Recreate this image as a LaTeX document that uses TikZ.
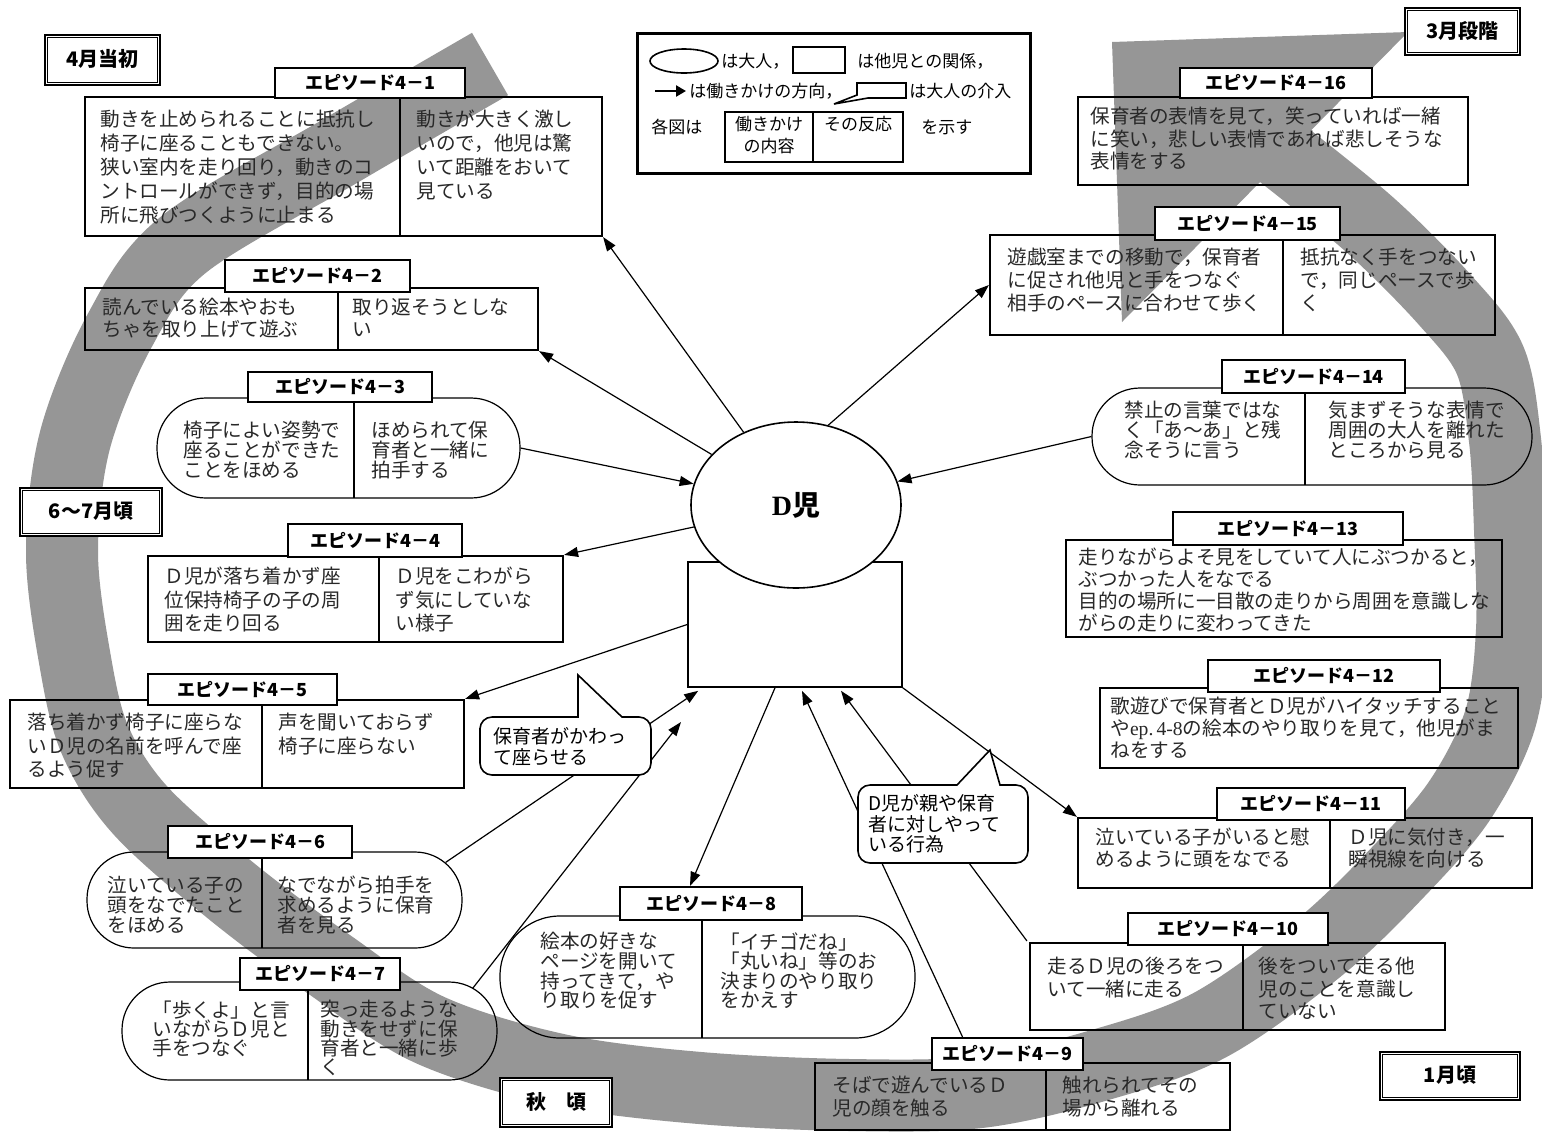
\documentclass[tikz,border=0pt]{standalone}
\usepackage{fontspec}
\setmainfont{Liberation Serif}
\newfontfamily\jp{Noto Sans CJK JP}
\usetikzlibrary{arrows.meta,fit,calc,shapes.geometric}
\definecolor{bandgray}{RGB}{150,150,150}
\definecolor{txtc}{RGB}{40,40,40}
\newcommand\bodyf[1]{\jp\fontsize{9.8}{#1}\selectfont\lineskiplimit=-20pt\relax}
\newcommand\calf{\jp\fontsize{9.5}{10.3}\selectfont\lineskiplimit=-20pt\relax}
\newcommand\cell[5]{\node[txt, font=\bodyf{#4}] (#1) at (#2,#3) {#5};}
% style, name, x1, y1, x2, y2, text  (pixel coordinates)
\newcommand\rnode[7]{%
  \pgfmathsetmacro\rcx{(#3+#5)/2}\pgfmathsetmacro\rcy{(#4+#6)/2}%
  \pgfmathsetmacro\rww{(#5-#3)*0.5}\pgfmathsetmacro\rhh{(#6-#4)*0.5}%
  \node[#1, minimum width=\rww pt, minimum height=\rhh pt, anchor=center] (#2) at (\rcx,\rcy) {#7};}
\begin{document}
\begin{tikzpicture}[x=0.5pt,y=-0.5pt,
  box/.style={draw, line width=1.1pt, inner sep=0pt},
  pillbox/.style={draw, line width=0.6pt, inner sep=0pt, rounded corners=#1},
  lab/.style={draw, fill=white, line width=1.1pt, inner sep=0pt, text height=0.78em, text depth=0.1em, font=\jp\bfseries\fontsize{9}{10}\selectfont},
  corner/.style={draw, fill=white, line width=1.4pt, inner sep=0pt, text height=0.78em, text depth=0.1em, font=\jp\bfseries\fontsize{10}{12}\selectfont},
  txt/.style={anchor=north west, inner sep=0pt, align=left, text=txtc},
  legt/.style={inner sep=0pt, font=\jp\fontsize{8.5}{11}\selectfont, align=center},
  calt/.style={anchor=north west, inner sep=0pt, align=left, font=\calf},
  arr/.style={-{Triangle[length=7pt,width=5pt]}, line width=0.6pt},
  div/.style={line width=1.1pt},
  tdiv/.style={line width=0.6pt},
  band/.style={draw=bandgray, line width=36pt, line cap=butt, line join=round}
]
\useasboundingbox (0,0) rectangle (1542,1131);
\fill[white] (0,0) rectangle (1542,1131);

% ---------- big spiral band ----------
\draw[band] plot[smooth, tension=0.55] coordinates {
 (490,64) (342,150) (183,245) (120,330) (75,440) (62,552) (75,660) (95,740)
 (140,810) (230,890) (330,965) (430,1030) (560,1070) (700,1088) (850,1095)
 (980,1092) (1100,1065) (1210,1025) (1320,947) (1400,870) (1460,800)
 (1500,720) (1512,630) (1510,530) (1505,440) (1490,360) (1445,300)
 (1370,225) (1280,152)};
\fill[bandgray] (1112,42) -- (1408,32) -- (1122,322) -- cycle;

% ---------- episode boxes ----------
% 4-1
\node[box, fit={(85,97) (602,236)}] (e1) {};
\draw[div] (400,97) -- (400,236);
\cell{t1a}{100}{110}{12}{動きを止められることに抵抗し\\椅子に座ることもできない。\\狭い室内を走り回り，動きのコ\\ントロールができず，目的の場\\所に飛びつくように止まる}
\cell{t1b}{416}{110}{12}{動きが大きく激し\\いので，他児は驚\\いて距離をおいて\\見ている}
\rnode{lab}{l1}{275}{68}{465}{98}{エピソード4－1}
% 4-2
\node[box, fit={(85,288) (538,350)}] (e2) {};
\draw[div] (338,288) -- (338,350);
\cell{t2a}{102}{298}{11}{読んでいる絵本やおも\\ちゃを取り上げて遊ぶ}
\cell{t2b}{352}{298}{11}{取り返そうとしな\\い}
\rnode{lab}{l2}{225}{260}{410}{292}{エピソード4－2}
% 4-3
\node[pillbox=24.5pt, fit={(157,398) (520,498)}] (p3) {};
\draw[tdiv] (354,398) -- (354,498);
\cell{t3a}{183}{421}{10}{椅子によい姿勢で\\座ることができた\\ことをほめる}
\cell{t3b}{371}{421}{10}{ほめられて保\\育者と一緒に\\拍手する}
\rnode{lab}{l3}{248}{372}{432}{402}{エピソード4－3}
% 4-4
\node[box, fit={(148,556) (563,642)}] (e4) {};
\draw[div] (379,556) -- (379,642);
\cell{t4a}{164}{567}{11.75}{Ｄ児が落ち着かず座\\位保持椅子の子の周\\囲を走り回る}
\cell{t4b}{395}{567}{11.75}{Ｄ児をこわがら\\ず気にしていな\\い様子}
\rnode{lab}{l4}{288}{524}{462}{557}{エピソード4－4}
% 4-5
\node[box, fit={(10,700) (464,788)}] (e5) {};
\draw[div] (262,700) -- (262,788);
\cell{t5a}{27}{713}{11.75}{落ち着かず椅子に座らな\\いＤ児の名前を呼んで座\\るよう促す}
\cell{t5b}{278}{713}{11.75}{声を聞いておらず\\椅子に座らない}
\rnode{lab}{l5}{148}{674}{337}{705}{エピソード4－5}
% 4-6
\node[pillbox=23.5pt, fit={(87,852) (462,948)}] (p6) {};
\draw[tdiv] (262,852) -- (262,948);
\cell{t6a}{107}{876}{10}{泣いている子の\\頭をなでたこと\\をほめる}
\cell{t6b}{277}{876}{10}{なでながら拍手を\\求めるように保育\\者を見る}
\rnode{lab}{l6}{168}{826}{352}{858}{エピソード4－6}
% 4-7
\node[pillbox=24pt, fit={(122,982) (497,1080)}] (p7) {};
\draw[tdiv] (308,982) -- (308,1080);
\cell{t7a}{152}{1000}{9.6}{「歩くよ」と言\\いながらＤ児と\\手をつなぐ}
\cell{t7b}{320}{1000}{9.6}{突っ走るような\\動きをせずに保\\育者と一緒に歩\\く}
\rnode{lab}{l7}{240}{958}{400}{990}{エピソード4－7}
% 4-8
\node[pillbox=30pt, fit={(500,916) (915,1038)}] (p8) {};
\draw[tdiv] (702,916) -- (702,1038);
\cell{t8a}{540}{932}{9.8}{絵本の好きな\\ページを開いて\\持ってきて，や\\り取りを促す}
\cell{t8b}{720}{932}{9.8}{「イチゴだね」\\「丸いね」等のお\\決まりのやり取り\\をかえす}
\rnode{lab}{l8}{620}{887}{802}{920}{エピソード4－8}
% 4-9
\node[box, fit={(815,1063) (1230,1130)}] (e9) {};
\draw[div] (1046,1063) -- (1046,1130);
\cell{t9a}{832}{1076}{11.5}{そばで遊んでいるＤ\\児の顔を触る}
\cell{t9b}{1062}{1076}{11.5}{触れられてその\\場から離れる}
\rnode{lab}{l9}{932}{1038}{1083}{1070}{エピソード4－9}
% 4-10
\node[box, fit={(1030,943) (1445,1030)}] (e10) {};
\draw[div] (1243,943) -- (1243,1030);
\cell{t10a}{1047}{957}{11.25}{走るＤ児の後ろをつ\\いて一緒に走る}
\cell{t10b}{1258}{957}{11.25}{後をついて走る他\\児のことを意識し\\ていない}
\rnode{lab}{l10}{1128}{913}{1328}{945}{エピソード4－10}
% 4-11
\node[box, fit={(1078,818) (1532,888)}] (e11) {};
\draw[div] (1330,818) -- (1330,888);
\cell{t11a}{1095}{828}{11}{泣いている子がいると慰\\めるように頭をなでる}
\cell{t11b}{1348}{828}{11}{Ｄ児に気付き，一\\瞬視線を向ける}
\rnode{lab}{l11}{1217}{788}{1405}{820}{エピソード4－11}
% 4-12
\node[box, fit={(1100,688) (1518,768)}] (e12) {};
\cell{t12}{1110}{697}{11}{歌遊びで保育者とＤ児がハイタッチすること\\や{\rmfamily ep.\,4-8}の絵本のやり取りを見て，他児がま\\ねをする}
\rnode{lab}{l12}{1208}{660}{1440}{692}{エピソード4－12}
% 4-13
\node[box, fit={(1066,540) (1502,637)}] (e13) {};
\cell{t13}{1078}{548}{10.9}{走りながらよそ見をしていて人にぶつかると，\\ぶつかった人をなでる\\目的の場所に一目散の走りから周囲を意識しな\\がらの走りに変わってきた}
\rnode{lab}{l13}{1173}{512}{1403}{545}{エピソード4－13}
% 4-14
\node[pillbox=24pt, fit={(1092,388) (1532,485)}] (p14) {};
\draw[tdiv] (1305,388) -- (1305,485);
\cell{t14a}{1124}{401}{10}{禁止の言葉ではな\\く「あ〜あ」と残\\念そうに言う}
\cell{t14b}{1328}{401}{10}{気まずそうな表情で\\周囲の大人を離れた\\ところから見る}
\rnode{lab}{l14}{1222}{360}{1405}{393}{エピソード4－14}
% 4-15
\node[box, fit={(990,235) (1495,335)}] (e15) {};
\draw[div] (1283,235) -- (1283,335);
\cell{t15a}{1007}{248}{11.5}{遊戯室までの移動で，保育者\\に促され他児と手をつなぐ\\相手のペースに合わせて歩く}
\cell{t15b}{1300}{248}{11.5}{抵抗なく手をつない\\で，同じペースで歩\\く}
\rnode{lab}{l15}{1155}{207}{1340}{240}{エピソード4－15}
% 4-16
\node[box, fit={(1078,97) (1468,185)}] (e16) {};
\cell{t16}{1090}{107}{11.25}{保育者の表情を見て，笑っていれば一緒\\に笑い，悲しい表情であれば悲しそうな\\表情をする}
\rnode{lab}{l16}{1180}{68}{1372}{98}{エピソード4－16}

% ---------- period labels ----------
\rnode{corner}{c1}{45}{35}{160}{85}{4月当初}
\draw[line width=0.5pt] ([shift={(4,4)}]c1.north west) rectangle ([shift={(-4,-4)}]c1.south east);
\rnode{corner}{c2}{20}{488}{162}{536}{6〜7月頃}
\draw[line width=0.5pt] ([shift={(4,4)}]c2.north west) rectangle ([shift={(-4,-4)}]c2.south east);
\rnode{corner}{c3}{500}{1078}{612}{1127}{秋　頃}
\draw[line width=0.5pt] ([shift={(4,4)}]c3.north west) rectangle ([shift={(-4,-4)}]c3.south east);
\rnode{corner}{c4}{1380}{1052}{1520}{1100}{1月頃}
\draw[line width=0.5pt] ([shift={(4,4)}]c4.north west) rectangle ([shift={(-4,-4)}]c4.south east);
\rnode{corner}{c5}{1405}{8}{1520}{55}{3月段階}
\draw[line width=0.5pt] ([shift={(4,4)}]c5.north west) rectangle ([shift={(-4,-4)}]c5.south east);

% ---------- legend ----------
\node[draw, fill=white, line width=1.5pt, inner sep=0pt, fit={(637,33) (1030,173)}] (leg) {};
\node[draw, ellipse, line width=0.8pt, minimum width=34pt, minimum height=12pt, inner sep=0pt] (legE) at (684,61) {};
\node[legt, anchor=west] (legEt) at (721,61) {は大人，};
\node[draw, line width=0.9pt, inner sep=0pt, fit={(793,47) (845,73)}] (legR) {};
\node[legt, anchor=west] (legRt) at (857,61) {は他児との関係，};
\coordinate (legA1) at (655,91);
\coordinate (legA2) at (686,91);
\draw[-{Triangle[length=5pt,width=5.5pt]}, line width=1.2pt] (legA1) -- (legA2);
\node[legt, anchor=west] (legAt) at (689,91) {は働きかけの方向，};
\draw[line width=0.8pt, fill=white] (857,83) -- (906,83) -- (906,98) -- (868,98) -- (834,104) -- (857,95) -- cycle;
\node[legt, anchor=west] (legCt) at (909,91) {は大人の介入};
\node[legt, anchor=west] (legF) at (651,127) {各図は};
\node[draw, line width=1pt, inner sep=0pt, fit={(725,112) (903,162)}] (legB) {};
\draw[line width=1pt] (813,112) -- (813,162);
\node[legt, anchor=north] (legB1) at (769,116) {働きかけ\\の内容};
\node[legt, anchor=north] (legB2) at (858,116) {その反応};
\node[legt, anchor=west] (legS) at (921,127) {を示す};

% ---------- centre ----------
\node[draw, fill=white, line width=0.8pt, inner sep=0pt, fit={(688,562) (902,687)}] (Dr) {};
\node[draw, ellipse, fill=white, line width=0.8pt, minimum width=105pt, minimum height=83pt, inner sep=0pt] (D) at (796,505) {{\bfseries\fontsize{14}{16}\selectfont D\jp 児}};

% ---------- connectors ----------
\coordinate (c7) at (681,722);
\draw[arr] (D) -- (e1.south east);
\draw[arr] (D) -- (e2.south east);
\draw[arr] (p3.east) -- (D);
\draw[arr] (D) -- (e4.north east);
\draw[arr] (Dr.west) -- (e5.north east);
\draw[arr] ([shift={(-17,11)}]p6.north east) -- ([shift={(11,3)}]Dr.south west);
\draw[arr] ([shift={(-25,7)}]p7.north east) -- (c7);
\draw[arr] ([shift={(-20,0)}]Dr.south) -- ([shift={(-21,0)}]l8.north);
\draw[arr] ([shift={(-45,0)}]l9.north) -- ([shift={(7,3)}]Dr.south);
\draw[arr] ([shift={(-2,-1)}]e10.north west) -- ([shift={(46,3)}]Dr.south);
\draw[arr] (Dr.south east) -- (e11.north west);
\draw[arr] (p14.west) -- (D);
\draw[arr] (D.68) -- (e15.west);

% ---------- callouts ----------
\draw[line width=0.8pt, fill=white] (480,740) [rounded corners=6pt] -- (480,717) -- (560,717) [sharp corners] -- (578,717) -- (578,675) -- (622,717) -- (635,717) [rounded corners=6pt] -- (651,717) -- (651,775) -- (480,775) -- cycle;
\node[calt] (k1) at (493,727) {保育者がかわっ\\て座らせる};
\draw[line width=0.8pt, fill=white] (858,820) [rounded corners=6pt] -- (858,785) -- (940,785) [sharp corners] -- (957,785) -- (990,750) -- (1000,785) -- (1012,785) [rounded corners=6pt] -- (1028,785) -- (1028,863) -- (858,863) -- cycle;
\node[calt] (k2) at (868,794) {D児が親や保育\\者に対しやって\\いる行為};
\end{tikzpicture}
\end{document}
